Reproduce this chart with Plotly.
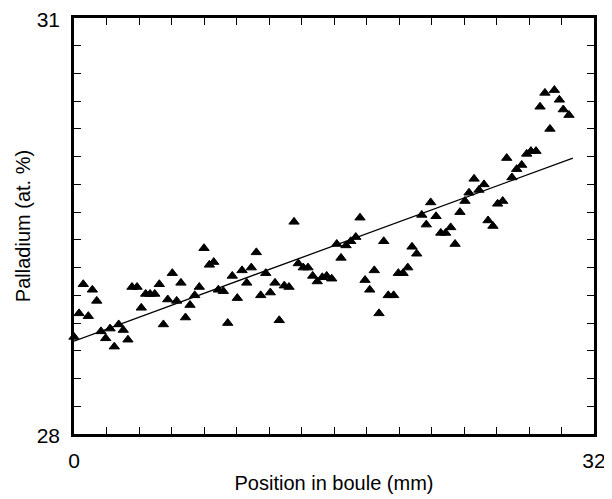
import plotly.graph_objects as go

# Measured positions (mm) and palladium concentration (at. %)
position_mm = [0.0, 0.31, 0.57, 0.88, 1.13, 1.40, 1.66, 1.95, 2.22, 2.48,
               2.75, 3.03, 3.32, 3.57, 3.88, 4.14, 4.41, 4.68, 4.97, 5.25,
               5.50, 5.77, 6.05, 6.32, 6.58, 6.86, 7.14, 7.43, 7.71, 8.00,
               8.33, 8.60, 8.88, 9.19, 9.46, 9.74, 10.05, 10.34, 10.63, 10.91,
               11.22, 11.49, 11.80, 12.08, 12.37, 12.63, 12.94, 13.23, 13.54, 13.80,
               14.11, 14.40, 14.69, 14.97, 15.28, 15.55, 15.86, 16.17, 16.43, 16.74,
               17.03, 17.34, 17.60, 17.91, 18.20, 18.48, 18.77, 19.06, 19.34, 19.67,
               19.96, 20.25, 20.54, 20.80, 21.09, 21.40, 21.68, 21.95, 22.28, 22.57,
               22.87, 23.18, 23.45, 23.75, 24.06, 24.31, 24.62, 24.92, 25.23, 25.48,
               25.78, 26.07, 26.38, 26.63, 26.95, 27.24, 27.55, 27.86, 28.12, 28.43,
               28.68, 28.98, 29.29, 29.56, 29.87, 30.11, 30.46]
palladium_pct = [28.70, 28.87, 29.08, 28.85, 29.04, 28.96, 28.74, 28.69, 28.76, 28.63,
                 28.79, 28.75, 28.68, 29.06, 29.06, 28.91, 29.01, 29.01, 29.01, 29.08,
                 28.79, 28.97, 29.16, 28.96, 29.09, 28.84, 28.93, 29.00, 29.06, 29.34,
                 29.22, 29.24, 29.04, 29.03, 28.80, 29.14, 28.98, 29.18, 29.09, 29.20,
                 29.31, 29.00, 29.16, 29.02, 29.09, 28.82, 29.07, 29.06, 29.53, 29.23,
                 29.20, 29.20, 29.14, 29.10, 29.13, 29.14, 29.12, 29.37, 29.27, 29.36,
                 29.39, 29.42, 29.56, 29.11, 29.04, 29.18, 28.87, 29.39, 29.00, 29.00,
                 29.16, 29.16, 29.20, 29.35, 29.30, 29.58, 29.51, 29.67, 29.57, 29.45,
                 29.45, 29.49, 29.37, 29.60, 29.68, 29.74, 29.84, 29.76, 29.80, 29.54,
                 29.50, 29.66, 29.68, 29.99, 29.85, 29.91, 29.94, 30.02, 30.04, 30.04,
                 30.36, 30.46, 30.20, 30.48, 30.41, 30.34, 30.30]

# Linear fit line endpoints
fit_x = [0.0, 30.7]
fit_y = [28.67, 29.99]

# Axis ticks
x_tickvals = list(range(0, 33, 2))
x_ticktext = ["0"] + [""] * 15 + ["32"]
y_tickvals = [28 + 0.2 * i for i in range(16)]
y_ticktext = ["28"] + [""] * 14 + ["31"]

fig = go.Figure()
fig.add_trace(go.Scatter(x=fit_x, y=fit_y, mode="lines",
                         line=dict(color="black", width=1.3), showlegend=False))
fig.add_trace(go.Scatter(x=position_mm, y=palladium_pct, mode="markers",
                         marker=dict(symbol="triangle-up", size=9, color="black",
                                     line=dict(color="black", width=1)),
                         showlegend=False, cliponaxis=False))

font = dict(family="Liberation Sans, Arial, sans-serif", color="black")
axis_common = dict(showgrid=False, zeroline=False, showline=True, linecolor="black",
                   linewidth=2.5, mirror="ticks", ticks="inside", ticklen=7,
                   tickwidth=1, tickcolor="black", tickfont=dict(size=21, **font),
                   automargin=False, ticklabeloverflow="allow")
fig.update_xaxes(range=[0, 32], tickvals=x_tickvals, ticktext=x_ticktext,
                 title=dict(text="Position in boule (mm)", font=dict(size=20, **font),
                            standoff=6),
                 ticklabelstandoff=6, ticklabelshift=0, **axis_common)
fig.update_yaxes(range=[28, 31], tickvals=y_tickvals, ticktext=y_ticktext,
                 title=dict(text="Palladium (at. %)", font=dict(size=20, **font),
                            standoff=1),
                 ticklabelstandoff=7, ticklabelshift=2, **axis_common)
# The page places the figure 8 px in from the top-left corner.
fig.update_layout(width=604, height=491, plot_bgcolor="white", paper_bgcolor="white",
                  margin=dict(l=66, r=18, t=10, b=65), font=font)

fig.write_html("out.html")
